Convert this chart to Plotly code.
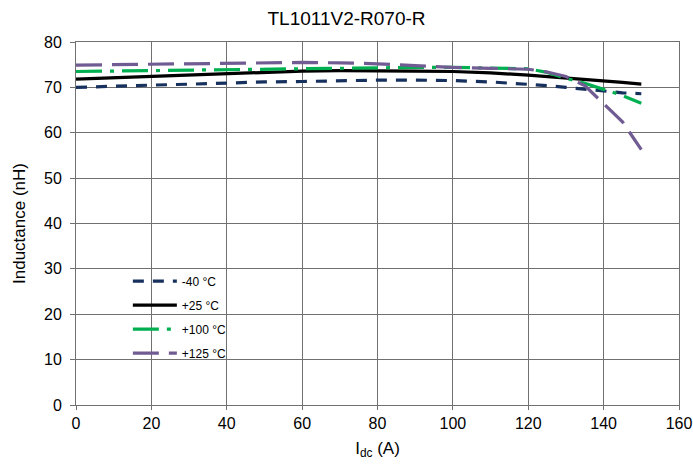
import plotly.graph_objects as go

x_vals = [0, 10, 20, 30, 40, 50, 60, 70, 80, 90, 100, 110, 120, 125, 130, 135, 140, 145, 150]

ind_m40 = [70.0, 70.3, 70.5, 70.7, 71.0, 71.2, 71.3, 71.5, 71.6, 71.6, 71.5, 71.2, 70.7, 70.4, 70.0, 69.6, 69.1, 68.8, 68.6]
ind_25 = [71.8, 72.1, 72.4, 72.8, 73.1, 73.4, 73.6, 73.7, 73.7, 73.6, 73.5, 73.2, 72.7, 72.4, 72.1, 71.8, 71.5, 71.1, 70.7]
ind_100 = [73.5, 73.6, 73.7, 73.9, 74.0, 74.1, 74.2, 74.3, 74.4, 74.4, 74.4, 74.3, 74.1, 73.3, 72.0, 70.9, 69.5, 68.2, 66.5]
ind_125 = [74.9, 75.0, 75.0, 75.1, 75.2, 75.4, 75.5, 75.4, 75.2, 74.8, 74.4, 74.2, 74.0, 73.4, 72.4, 70.4, 66.5, 62.4, 56.3]

names = ["-40 °C", "+25 °C", "+100 °C", "+125 °C"]
colors = ["#17315F", "#000000", "#00B050", "#705C92"]
dashes = ["11px,9px", "solid", "26px,8px,4px,8px", "26px,10px"]
series = [ind_m40, ind_25, ind_100, ind_125]

fig = go.Figure()
for i, (nm, ys, c, d) in enumerate(zip(names, series, colors, dashes)):
    fig.add_trace(go.Scatter(x=x_vals, y=ys, name=nm, mode="lines", legendgroup=f"g{i}",
                             line=dict(color=c, width=3.2, dash=d)))

fig.update_layout(
    width=693, height=465,
    paper_bgcolor="white", plot_bgcolor="white",
    margin=dict(l=76, r=14, t=42, b=60, autoexpand=False),
    font=dict(family="Liberation Sans, Arial, sans-serif", color="#000000", size=16),
    title=dict(text="TL1011V2-R070-R", x=0.5, xanchor="center", y=1 - 18 / 465, yanchor="middle",
               font=dict(size=19)),
    showlegend=True,
    legend=dict(x=0.086, y=0.381, xanchor="left", yanchor="top", bgcolor="rgba(0,0,0,0)",
                font=dict(size=12), tracegroupgap=5, itemwidth=44),
    xaxis=dict(range=[0, 160], dtick=20, tick0=0, showgrid=True, gridcolor="#707070", gridwidth=1,
               showline=True, linecolor="#707070", mirror=True, ticks="outside", ticklen=4,
               tickcolor="#707070", zeroline=False, automargin=False,
               title=dict(text="I<sub>dc</sub> (A)", standoff=10, font=dict(size=17))),
    yaxis=dict(range=[0, 80], dtick=10, tick0=0, showgrid=True, gridcolor="#707070", gridwidth=1,
               showline=True, linecolor="#707070", mirror=True, ticks="outside", ticklen=5,
               tickcolor="#707070", zeroline=False, automargin=False, ticklabelstandoff=5,
               title=dict(text="Inductance (nH)", standoff=14, font=dict(size=17))),
)

# remove the page's default body margin so the figure fills the window exactly
fig.write_html("out.html", config={"displayModeBar": False},
               post_script="document.body.style.margin='0px';")
